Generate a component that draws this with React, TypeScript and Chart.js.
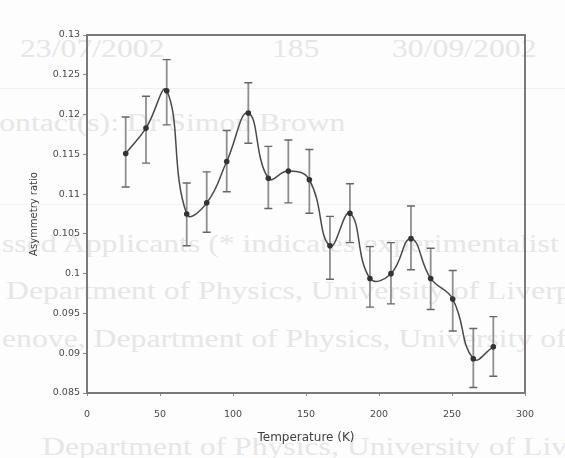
import React, { useEffect, useRef } from "react";
import { Chart, registerables } from "chart.js";

Chart.register(...registerables);

// Temperature (K)
const temperatures = [26.5, 40.4, 54.6, 68.3, 82.0, 95.7, 110.5, 124.2, 137.9, 152.3, 166.4, 180.1, 193.8, 208.2, 221.9, 235.4, 250.5, 264.6, 278.3];
// Asymmetry ratio
const asymmetry = [0.1151, 0.1183, 0.1230, 0.1075, 0.1089, 0.1141, 0.1202, 0.1120, 0.1129, 0.1118, 0.1035, 0.1076, 0.0994, 0.1000, 0.1044, 0.0994, 0.0968, 0.0893, 0.0908];
// Error bar ends
const errorHigh = [0.1197, 0.1223, 0.1269, 0.1114, 0.1128, 0.1180, 0.1240, 0.1160, 0.1168, 0.1156, 0.1072, 0.1113, 0.1034, 0.1039, 0.1085, 0.1032, 0.1004, 0.0931, 0.0946];
const errorLow = [0.1109, 0.1139, 0.1187, 0.1035, 0.1052, 0.1103, 0.1164, 0.1082, 0.1089, 0.1076, 0.0993, 0.1039, 0.0958, 0.0962, 0.1005, 0.0955, 0.0928, 0.0857, 0.0871];

const xTickValues = [0, 50, 100, 150, 200, 250, 300];
const yTickValues = [0.085, 0.09, 0.095, 0.1, 0.105, 0.11, 0.115, 0.12, 0.125, 0.13];
const yTickLabels = ["0.085", "0.09", "0.095", "0.1", "0.105", "0.11", "0.115", "0.12", "0.125", "0.13"];

const xTitle = "Temperature (K)";
const yTitle = "Asymmetry ratio";

// faint bleed-through text of the scanned page
const backgroundLines = [
  { text: "23/07/2002", left: 20, top: 34 },
  { text: "185", left: 272, top: 34 },
  { text: "30/09/2002", left: 392, top: 34 },
  { text: "Contact(s): Dr Simon Brown", left: -22, top: 108 },
  { text: "ssed Applicants (* indicates experimentalist", left: 2, top: 229 },
  { text: "Department of Physics, University of Liverpool", left: 6, top: 276 },
  { text: "enove, Department of Physics, University of", left: 2, top: 324 },
  { text: "Department of Physics, University of Liverpool", left: 42, top: 432 },
];

const FONT = "'DejaVu Sans', 'Liberation Sans', sans-serif";
const INK = "#4a4a4a";

export default function App() {
  const ref = useRef<HTMLCanvasElement | null>(null);

  useEffect(() => {
    if (!ref.current) return;

    const errorBars = {
      id: "errorBars",
      beforeDatasetsDraw(chart: any) {
        const { ctx, scales } = chart;
        const xs = scales.x;
        const ys = scales.y;
        ctx.save();
        ctx.strokeStyle = "#8f8f8f";
        ctx.lineWidth = 1.8;
        for (let i = 0; i < temperatures.length; i++) {
          const x = xs.getPixelForValue(temperatures[i]);
          const yh = ys.getPixelForValue(errorHigh[i]);
          const yl = ys.getPixelForValue(errorLow[i]);
          ctx.beginPath();
          ctx.moveTo(x, yh);
          ctx.lineTo(x, yl);
          ctx.stroke();
        }
        ctx.strokeStyle = "#666";
        ctx.lineWidth = 1.4;
        for (let i = 0; i < temperatures.length; i++) {
          const x = xs.getPixelForValue(temperatures[i]);
          const yh = ys.getPixelForValue(errorHigh[i]);
          const yl = ys.getPixelForValue(errorLow[i]);
          ctx.beginPath();
          ctx.moveTo(x - 4, yh);
          ctx.lineTo(x + 4, yh);
          ctx.moveTo(x - 4, yl);
          ctx.lineTo(x + 4, yl);
          ctx.stroke();
        }
        ctx.restore();
      },
    };

    const frame = {
      id: "frame",
      afterDraw(chart: any) {
        const { ctx, chartArea: a } = chart;
        ctx.save();
        ctx.strokeStyle = "#7a7a7a";
        ctx.lineWidth = 2;
        ctx.strokeRect(a.left, a.top, a.right - a.left, a.bottom - a.top);
        ctx.restore();
      },
    };

    const chart = new Chart(ref.current, {
      type: "scatter",
      data: {
        datasets: [
          {
            data: temperatures.map((t, i) => ({ x: t, y: asymmetry[i] })),
            showLine: true,
            tension: 0.45,
            borderColor: "#4a4a4a",
            borderWidth: 1.5,
            pointRadius: 2.8,
            pointBackgroundColor: "#333",
            pointBorderColor: "#333",
            pointBorderWidth: 0,
          },
        ],
      },
      options: {
        animation: false,
        responsive: false,
        maintainAspectRatio: false,
        layout: { padding: { left: 0, right: 40, top: 35, bottom: 12 } },
        plugins: {
          legend: { display: false },
          tooltip: { enabled: false },
        },
        scales: {
          x: {
            type: "linear",
            min: 0,
            max: 300,
            afterBuildTicks: (s: any) => {
              s.ticks = xTickValues.map((v) => ({ value: v }));
            },
            afterFit: (s: any) => {
              s.height = 53;
            },
            border: { display: false },
            grid: { drawOnChartArea: false, drawTicks: true, tickLength: 3, color: "#888" },
            ticks: {
              color: INK,
              font: { family: FONT, size: 9.5 },
              padding: 13,
              maxRotation: 0,
            },
            title: {
              display: true,
              text: xTitle,
              color: "#3f3f3f",
              font: { family: FONT, size: 12 },
              padding: { top: 0, bottom: 1 },
            },
          },
          y: {
            type: "linear",
            min: 0.085,
            max: 0.13,
            afterBuildTicks: (s: any) => {
              s.ticks = yTickValues.map((v) => ({ value: v }));
            },
            afterFit: (s: any) => {
              s.width = 87;
            },
            border: { display: false },
            grid: { drawOnChartArea: false, drawTicks: true, tickLength: 4, color: "#888" },
            ticks: {
              color: INK,
              font: { family: FONT, size: 9.5 },
              padding: 3,
              callback: (_v: any, i: number) => yTickLabels[i],
            },
            title: {
              display: true,
              text: yTitle,
              color: "#3f3f3f",
              font: { family: FONT, size: 10 },
              padding: { top: 28, bottom: 0 },
            },
          },
        },
      },
      plugins: [errorBars, frame],
    } as any);

    return () => chart.destroy();
  }, []);

  return (
    <div
      style={{
        position: "fixed",
        left: 0,
        top: 0,
        width: 565,
        height: 458,
        overflow: "hidden",
        background: "#fdfdfd",
      }}
    >
      {backgroundLines.map((l, i) => (
        <span
          key={i}
          style={{
            position: "absolute",
            left: l.left,
            top: l.top,
            whiteSpace: "nowrap",
            fontFamily: "'Liberation Serif', 'DejaVu Serif', serif",
            fontSize: 26,
            lineHeight: "30px",
            color: "#e6e6e6",
            transform: "scaleX(1.22)",
            transformOrigin: "0 0",
          }}
        >
          {l.text}
        </span>
      ))}
      <div style={{ position: "absolute", left: 0, top: 88, width: 565, height: 1, background: "#f0f0f0" }} />
      <div style={{ position: "absolute", left: 0, top: 204, width: 565, height: 1, background: "#f2f2f2" }} />
      <canvas
        ref={ref}
        width={565}
        height={458}
        style={{ position: "absolute", left: 0, top: 0, width: 565, height: 458 }}
      />
    </div>
  );
}
